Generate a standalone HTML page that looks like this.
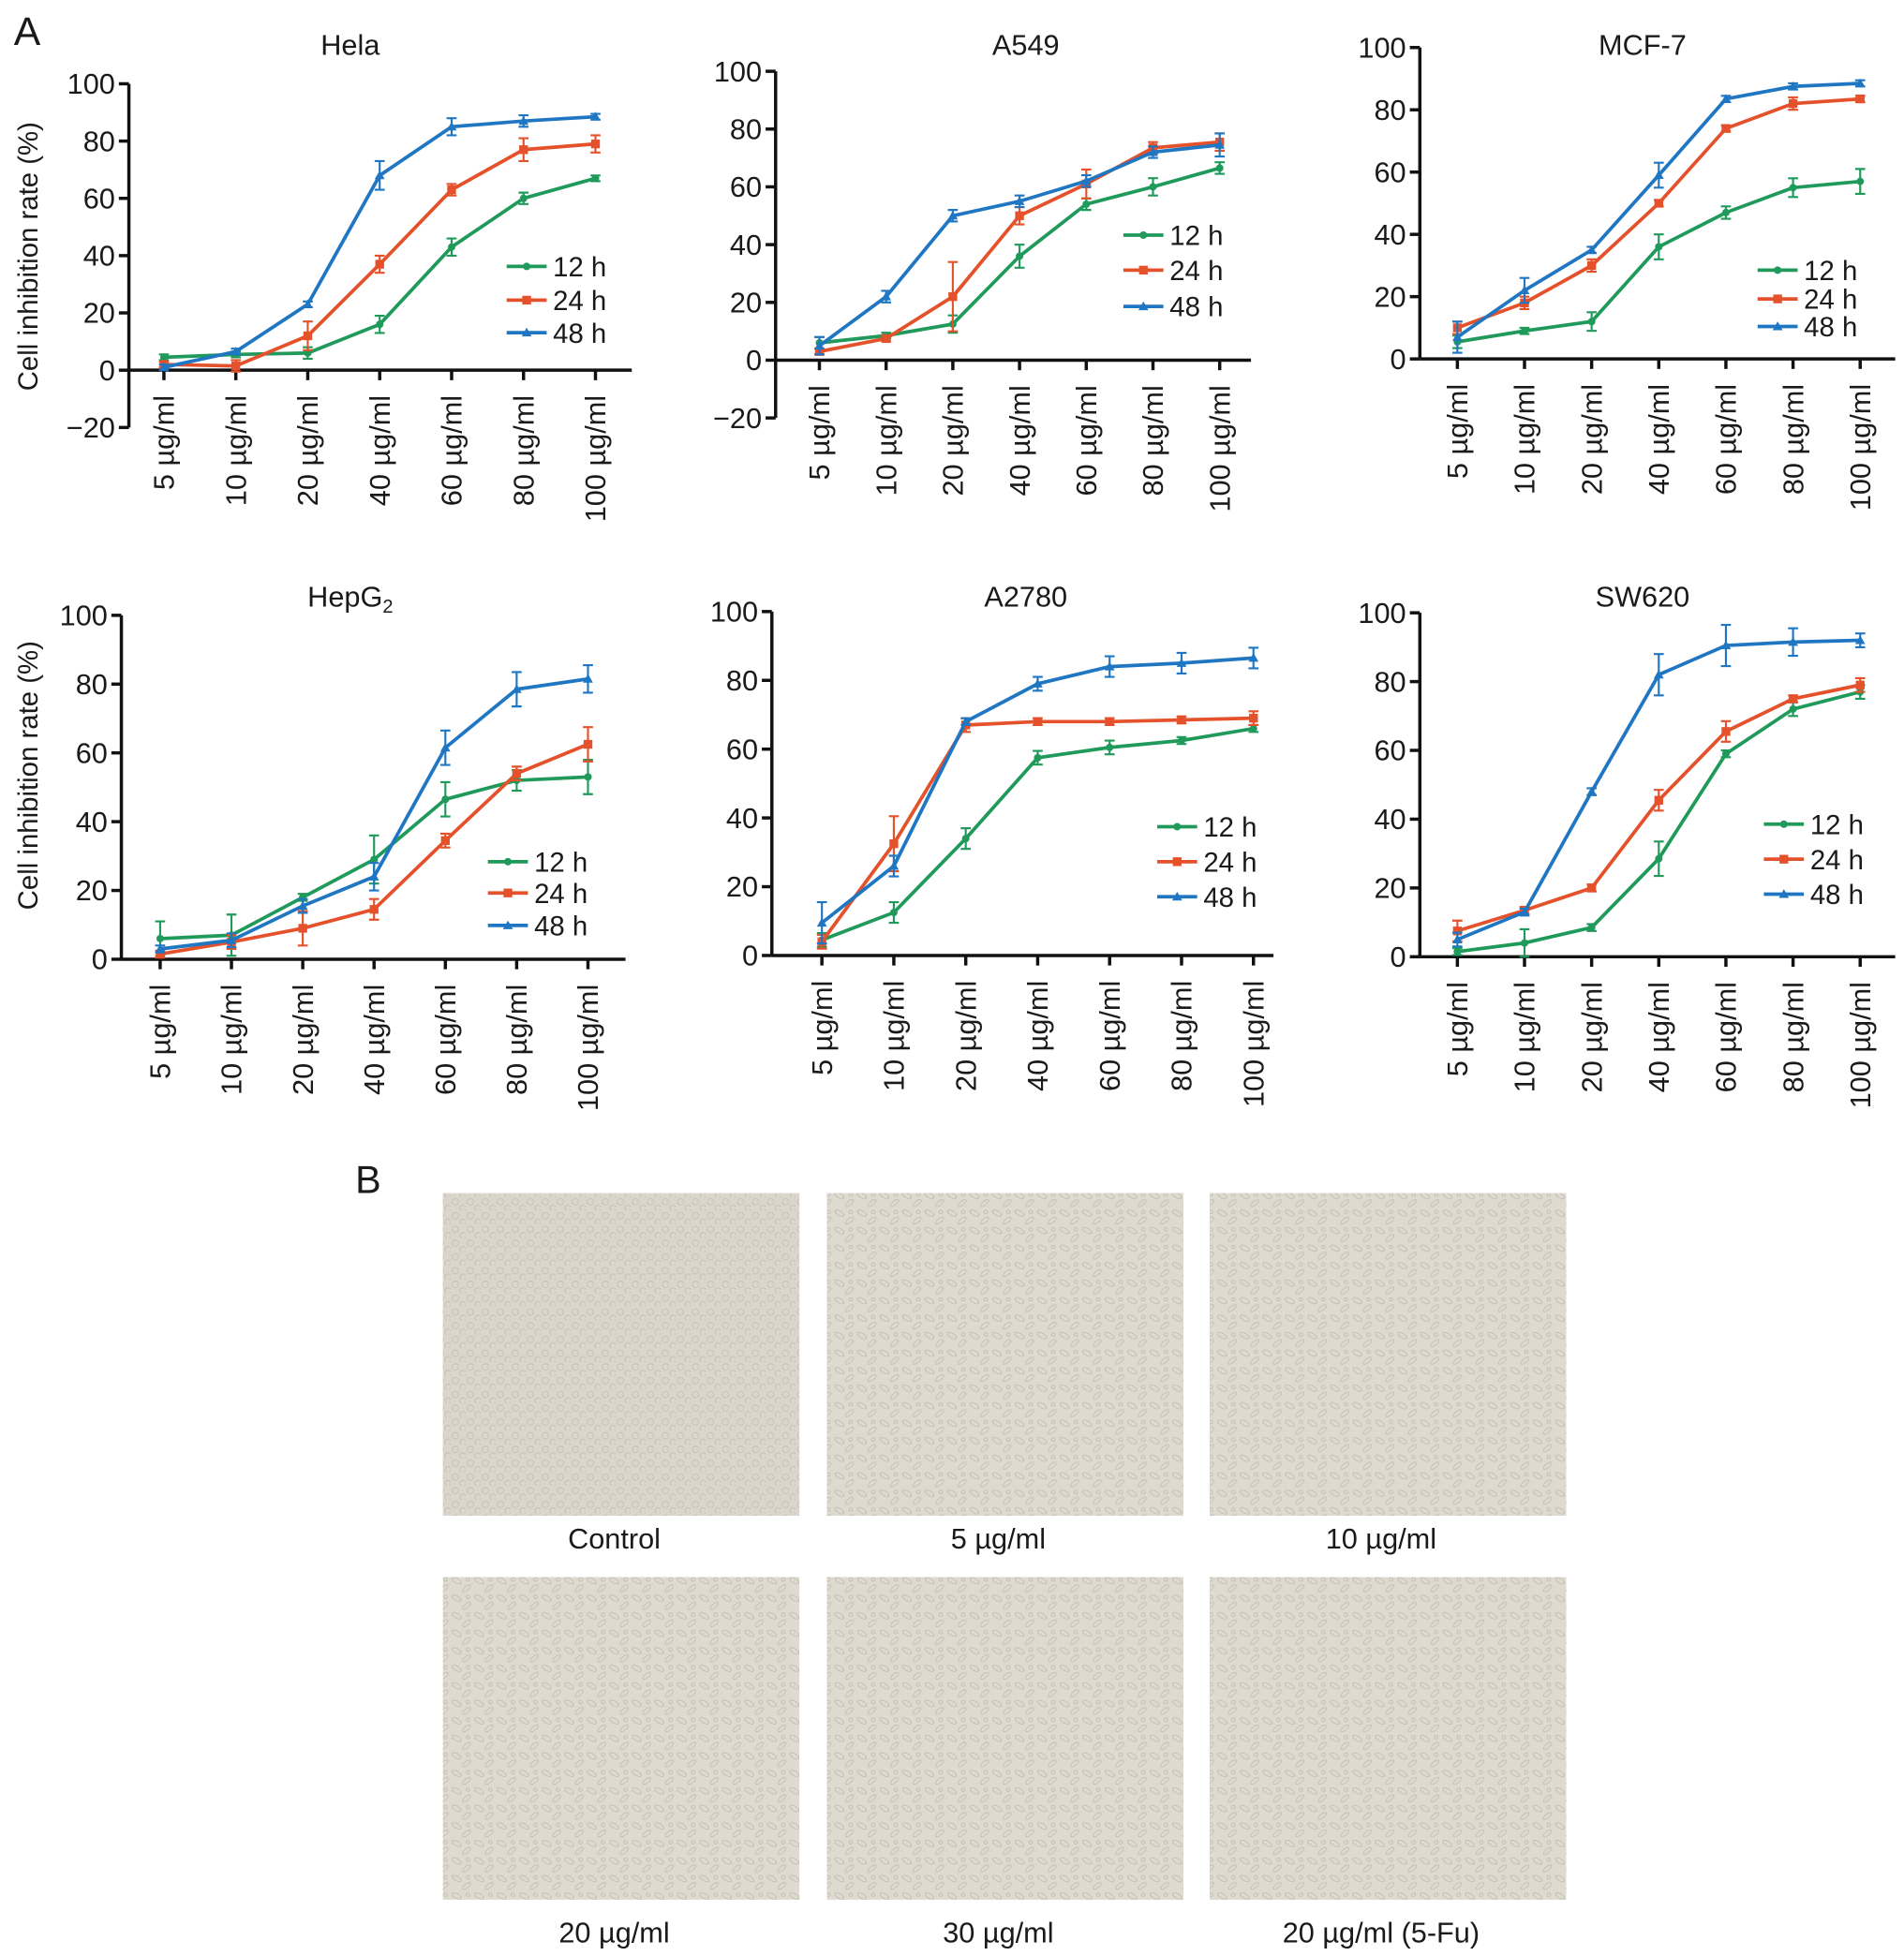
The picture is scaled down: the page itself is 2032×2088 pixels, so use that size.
<!DOCTYPE html>
<html><head><meta charset="utf-8">
<style>
html,body{margin:0;padding:0;background:#fff;}
svg{display:block;}
text{font-family:"Liberation Sans",Arial,sans-serif;fill:#1a1a1a;}
</style></head>
<body>
<svg id="fig" width="2032" height="2088" viewBox="0 0 1522 1564" xmlns="http://www.w3.org/2000/svg">
<defs>
<pattern id="cells" width="18" height="14" patternUnits="userSpaceOnUse">
<rect width="18" height="14" fill="#dedad0"/>
<ellipse cx="5" cy="4" rx="4" ry="1.8" fill="none" stroke="#bdb8ad" stroke-width="0.6" transform="rotate(30 5 4)"/>
<ellipse cx="13" cy="10" rx="4" ry="1.6" fill="none" stroke="#c2bdb2" stroke-width="0.6" transform="rotate(-40 13 10)"/>
<circle cx="14" cy="3" r="1.4" fill="none" stroke="#b5b0a5" stroke-width="0.5"/>
</pattern>
<pattern id="cells2" width="12" height="11" patternUnits="userSpaceOnUse">
<rect width="12" height="11" fill="#dbd6cb"/>
<circle cx="4" cy="4" r="2.6" fill="none" stroke="#c3beb3" stroke-width="0.6"/>
<circle cx="10" cy="9" r="2.4" fill="none" stroke="#bfbaaf" stroke-width="0.6"/>
</pattern>
</defs>
<text x="11" y="36" font-size="32">A</text>
<text x="284" y="954" font-size="31">B</text>
<g id="charts"></g>
<g id="photos"></g>
</svg>
<script>
const categories = ["5 µg/ml","10 µg/ml","20 µg/ml","40 µg/ml","60 µg/ml","80 µg/ml","100 µg/ml"];
const seriesNames = ["12 h","24 h","48 h"];
const helaSeries = [[4.5,5.5,6,16,43,60,67],[2,1.5,12,37,63,77,79],[1,6.5,23,68,85,87,88.5]];
const helaErr = [[1,1,2,3,3,2,1],[1,2,5,3,2,4,3],[1,1,1,5,3,2,1]];
const a549Series = [[6,8.5,12.5,36,54,60,66.5],[3,7.5,22,50,61,73.5,75.5],[5,22,50,55,62,72,74.5]];
const a549Err = [[2,1,3,4,2,3,2],[1,1,12,3,5,2,3],[3,2,2,2,2,2,4]];
const mcf7Series = [[5.5,9,12,36,47,55,57],[10,18,30,50,74,82,83.5],[7,22,35,59,83.5,87.5,88.5]];
const mcf7Err = [[2,1,3,4,2,3,4],[2,2,2,1,1,2,1],[5,4,1,4,1,1,1]];
const hepg2Series = [[6,7,18,29,46.5,52,53],[1.5,5,9,14.5,34.5,54,62.5],[3,5.5,15.5,24,61.5,78.5,81.5]];
const hepg2Err = [[5,6,1,7,5,3,5],[1,2,5,3,2,2,5],[1,2,2,4,5,5,4]];
const a2780Series = [[4.5,12.5,34,57.5,60.5,62.5,66],[4,32.5,67,68,68,68.5,69],[9.5,26,68,79,84,85,86.5]];
const a2780Err = [[2,3,3,2,2,1,1],[2,8,2,1,1,1,2],[6,3,1,2,3,3,3]];
const sw620Series = [[1.5,4,8.5,28.5,59,72,77],[7.5,13.5,20,45.5,65.5,75,79],[5,13,48,82,90.5,91.5,92]];
const sw620Err = [[1,4,1,5,1,2,2],[3,1,1,3,3,1,2],[2,1,1,6,6,4,2]];
const ticksNeg = [-20,0,20,40,60,80,100];
const ticksPos = [0,20,40,60,80,100];
const photoLabels = ["Control","5 µg/ml","10 µg/ml","20 µg/ml","30 µg/ml","20 µg/ml (5-Fu)"];

const colors = ["#1f9a5a","#e4512b","#1f76c2"];
const NS = "http://www.w3.org/2000/svg";
function mk(tag, attrs, parent){const e=document.createElementNS(NS,tag);for(const k in attrs)e.setAttribute(k,attrs[k]);parent.appendChild(e);return e;}

const panels = [
 {id:"hela",title:"Hela",s:helaSeries,e:helaErr,ax:103,y100:67,y0:296,ticks:ticksNeg,x0:131,x1:476,xend:505,tx:280,ty:44,lx:405,ly:[213,240,266],ylab:true,yl:205},
 {id:"a549",title:"A549",s:a549Series,e:a549Err,ax:620,y100:57,y0:288,ticks:ticksNeg,x0:655,x1:975,xend:1000,tx:820,ty:44,lx:898,ly:[188,216,245]},
 {id:"mcf7",title:"MCF-7",s:mcf7Series,e:mcf7Err,ax:1135,y100:38,y0:287,ticks:ticksPos,x0:1165,x1:1487,xend:1515,tx:1313,ty:44,lx:1405,ly:[216,239,261]},
 {id:"hepg2",title:"HepG",sub:"2",s:hepg2Series,e:hepg2Err,ax:97,y100:492,y0:767,ticks:ticksPos,x0:128,x1:470,xend:500,tx:280,ty:485,lx:390,ly:[689,714,740],ylab:true,yl:620},
 {id:"a2780",title:"A2780",s:a2780Series,e:a2780Err,ax:617,y100:489,y0:764,ticks:ticksPos,x0:657,x1:1002,xend:1018,tx:820,ty:485,lx:925,ly:[661,689,717]},
 {id:"sw620",title:"SW620",s:sw620Series,e:sw620Err,ax:1135,y100:490,y0:765,ticks:ticksPos,x0:1165,x1:1487,xend:1515,tx:1313,ty:485,lx:1410,ly:[659,687,715]}
];
const root=document.getElementById("charts");
function marker(g,k,x,y,c){
 if(k===0) return mk("circle",{cx:x,cy:y,r:3,fill:c},g);
 if(k===1) return mk("rect",{x:x-3.5,y:y-3.5,width:7,height:7,fill:c},g);
 return mk("polygon",{points:`${x},${y-4} ${x-4},${y+3} ${x+4},${y+3}`,fill:c},g);
}
panels.forEach(p=>{
 const g=mk("g",{},root);
 
 
 const yS=v=>p.y0+(p.y100-p.y0)*v/100;
 const xS=i=>p.x0+(p.x1-p.x0)*i/(categories.length-1);
 const t=mk("text",{x:p.tx,y:p.ty,"font-size":23,"text-anchor":"middle"},g);
 t.textContent=p.title;
 if(p.sub){const ts=mk("tspan",{"font-size":15,dy:5},t);ts.textContent=p.sub;}
 
 
 const ymin=p.ticks[0];
 const ya=mk("line",{x1:p.ax,y1:yS(ymin),x2:p.ax,y2:yS(100),stroke:"#111","stroke-width":2.6},g);
 
 
 p.ticks.forEach(v=>{
  mk("line",{x1:p.ax-8,y1:yS(v),x2:p.ax,y2:yS(v),stroke:"#111","stroke-width":2.6},g);
  const tl=mk("text",{x:p.ax-11,y:yS(v)+8,"font-size":23,"text-anchor":"end"},g);
  tl.textContent=v<0?"\u2212"+(-v):String(v);
  
  
 });
 const xa=mk("line",{x1:p.ax,y1:p.y0,x2:p.xend,y2:p.y0,stroke:"#111","stroke-width":2.6},g);
 
 
 const labTop=p.y0+20;
 categories.forEach((c,i)=>{
  mk("line",{x1:xS(i),y1:p.y0,x2:xS(i),y2:p.y0+8,stroke:"#111","stroke-width":2.6},g);
  const tl=mk("text",{x:0,y:0,"font-size":23,"text-anchor":"end",transform:`translate(${xS(i)+8},${labTop}) rotate(-90)`},g);
  tl.textContent=c;
  
  
 });
 if(p.ylab){
  const yl=mk("text",{x:0,y:0,"font-size":22,"text-anchor":"middle",transform:`translate(30,${p.yl}) rotate(-90)`},g);
  yl.textContent="Cell inhibition rate (%)";
  
  
 }
 p.s.forEach((ser,k)=>{
  const sg=mk("g",{},g);
  
  
  const pts=ser.map((v,i)=>xS(i)+","+yS(v)).join(" ");
  mk("polyline",{points:pts,fill:"none",stroke:colors[k],"stroke-width":2.8},sg);
  ser.forEach((v,i)=>{
   const e=p.e[k][i];const x=xS(i);
   mk("path",{d:`M${x},${yS(v-e)}V${yS(v+e)}M${x-4},${yS(v-e)}H${x+4}M${x-4},${yS(v+e)}H${x+4}`,stroke:colors[k],"stroke-width":1.6,fill:"none"},sg);
   const m=marker(sg,k,x,yS(v),colors[k]);
   
   
  });
  const lg=mk("g",{},g);
  
  
  mk("line",{x1:p.lx,y1:p.ly[k],x2:p.lx+32,y2:p.ly[k],stroke:colors[k],"stroke-width":2.8},lg);
  marker(lg,k,p.lx+16,p.ly[k],colors[k]);
  const lt=mk("text",{x:p.lx+37,y:p.ly[k]+8,"font-size":22},lg);
  lt.textContent=seriesNames[k];
 });
});
const ph=document.getElementById("photos");
const px=[354,661,967], py=[954,1261];
photoLabels.forEach((l,i)=>{
 const c=i%3, r=Math.floor(i/3);
 const rc=mk("rect",{x:px[c],y:py[r],width:285,height:258,fill:i===0?"url(#cells2)":"url(#cells)"},ph);
 
 
 const t=mk("text",{x:px[c]+137,y:r===0?1238:1553,"font-size":23,"text-anchor":"middle"},ph);
 t.textContent=l;
 
 
});
</script>
</body></html>
